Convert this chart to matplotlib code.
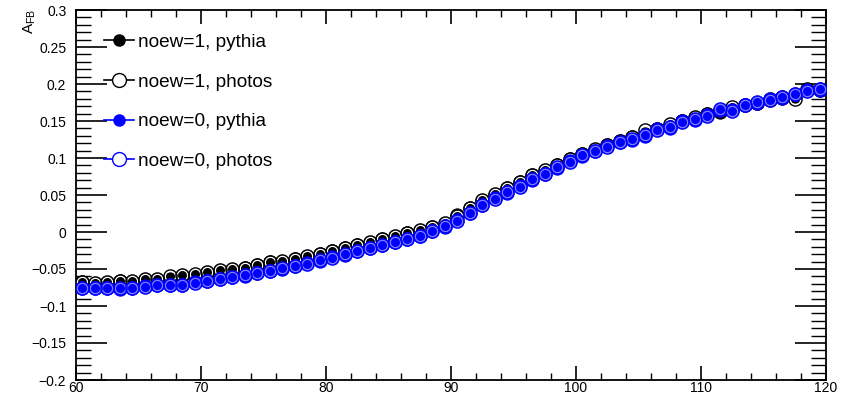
import numpy as np
import matplotlib
matplotlib.use("Agg")
import matplotlib.pyplot as plt
from matplotlib.lines import Line2D
from matplotlib.ticker import MultipleLocator

plt.rcParams['font.family'] = ['Liberation Sans', 'DejaVu Sans']

# bin centres (GeV)
mass = np.arange(60.5, 120.0, 1.0)

afb_noew1_pythia = [
    -0.068, -0.070, -0.069, -0.066, -0.068, -0.065, -0.065, -0.063, -0.060, -0.059,
    -0.055, -0.053, -0.0515, -0.048, -0.045, -0.041, -0.040, -0.036, -0.034, -0.030,
    -0.026, -0.021, -0.018, -0.015, -0.009, -0.007, -0.002, 0.002, 0.007, 0.011,
    0.023, 0.032, 0.042, 0.050, 0.059, 0.067, 0.077, 0.083, 0.090, 0.098,
    0.105, 0.111, 0.118, 0.123, 0.128, 0.133, 0.139, 0.144, 0.150, 0.154,
    0.159, 0.162, 0.166, 0.171, 0.175, 0.179, 0.181, 0.184, 0.192, 0.193]

afb_noew1_photos = [
    -0.067, -0.069, -0.068, -0.066, -0.066, -0.063, -0.064, -0.060, -0.058, -0.057,
    -0.054, -0.052, -0.050, -0.048, -0.044, -0.041, -0.039, -0.036, -0.033, -0.030,
    -0.025, -0.021, -0.017, -0.014, -0.009, -0.006, -0.002, 0.003, 0.007, 0.012,
    0.022, 0.033, 0.043, 0.051, 0.060, 0.068, 0.077, 0.084, 0.091, 0.099,
    0.105, 0.112, 0.118, 0.123, 0.129, 0.138, 0.139, 0.146, 0.150, 0.155,
    0.159, 0.164, 0.169, 0.171, 0.175, 0.180, 0.182, 0.180, 0.193, 0.192]

afb_noew0_pythia = [
    -0.075, -0.076, -0.076, -0.077, -0.075, -0.073, -0.072, -0.072, -0.072, -0.068,
    -0.066, -0.064, -0.061, -0.059, -0.056, -0.053, -0.050, -0.046, -0.042, -0.039,
    -0.034, -0.031, -0.026, -0.021, -0.018, -0.014, -0.010, -0.005, 0.0015, 0.007,
    0.016, 0.026, 0.036, 0.0456, 0.053, 0.062, 0.070, 0.079, 0.087, 0.096,
    0.103, 0.109, 0.116, 0.121, 0.125, 0.130, 0.139, 0.141, 0.150, 0.152,
    0.158, 0.165, 0.165, 0.172, 0.175, 0.180, 0.181, 0.186, 0.192, 0.192]

afb_noew0_photos = [
    -0.076, -0.075, -0.076, -0.076, -0.075, -0.074, -0.072, -0.071, -0.071, -0.069,
    -0.066, -0.063, -0.061, -0.058, -0.056, -0.053, -0.049, -0.046, -0.043, -0.038,
    -0.035, -0.030, -0.026, -0.022, -0.017, -0.014, -0.009, -0.005, 0.001, 0.008,
    0.015, 0.026, 0.037, 0.045, 0.054, 0.061, 0.071, 0.078, 0.088, 0.095,
    0.104, 0.109, 0.115, 0.122, 0.126, 0.131, 0.138, 0.142, 0.149, 0.153,
    0.157, 0.166, 0.164, 0.172, 0.176, 0.179, 0.182, 0.187, 0.191, 0.193]

labels = ["noew=1, pythia", "noew=1, photos", "noew=0, pythia", "noew=0, photos"]

fig = plt.figure(figsize=(8.48, 3.94), dpi=100)
ax = fig.add_axes([76/848, 1 - 380/394, 750/848, 370/394])

ms = 9.5
ax.plot(mass, afb_noew1_pythia, 'o', ms=ms, color='black', mec='black', mew=0.8, zorder=3)
ax.plot(mass, afb_noew1_photos, 'o', ms=ms-2, mfc='none', mec='white', mew=1.0, zorder=4)
ax.plot(mass, afb_noew1_photos, 'o', ms=ms, mfc='none', mec='black', mew=1.0, zorder=4)
ax.plot(mass, afb_noew0_pythia, 'o', ms=ms, color='#0000ff', mec='#0000ff', mew=0.8, zorder=5)
ax.plot(mass, afb_noew0_photos, 'o', ms=ms-2, mfc='none', mec='#8080ff', mew=1.0, zorder=6)
ax.plot(mass, afb_noew0_photos, 'o', ms=ms, mfc='none', mec='#0000ff', mew=1.0, zorder=6)

ax.set_xlim(60, 120)
ax.set_ylim(-0.2, 0.3)

ax.xaxis.set_major_locator(MultipleLocator(10))
ax.xaxis.set_minor_locator(MultipleLocator(2))
ax.yaxis.set_major_locator(MultipleLocator(0.05))
ax.yaxis.set_minor_locator(MultipleLocator(0.01))

ax.tick_params(axis='y', which='major', direction='in', length=22, width=1.2,
               left=True, right=True, labelsize=10, pad=7)
ax.tick_params(axis='y', which='minor', direction='in', length=11, width=1.0,
               left=True, right=True)
ax.tick_params(axis='x', which='major', direction='in', length=10, width=1.2,
               bottom=True, top=True, labelsize=10, pad=0.5)
ax.tick_params(axis='x', which='minor', direction='in', length=5, width=1.0,
               bottom=True, top=True)

def fmt_y(v):
    s = f"{v:.2f}".rstrip('0').rstrip('.')
    if s in ("-0", "0.0"):
        s = "0"
    return s.replace('-', '\u2212')

yt = np.arange(-0.2, 0.3001, 0.05)
ax.set_yticks(yt)
ax.set_yticklabels([fmt_y(round(v, 2)) for v in yt])
ax.set_xticks([60, 70, 80, 90, 100, 110, 120])
ax.set_xticklabels(["60", "70", "80", "90", "100", "110", "120"])

for sp in ax.spines.values():
    sp.set_linewidth(1.3)

fig.text(30/848, 1 - 9/394, r'A$_{\mathregular{FB}}$', rotation=90, ha='center', va='top',
         fontsize=11)

handles = [
    Line2D([], [], color='black', marker='o', ms=8, mfc='black', mec='black', lw=1.2),
    Line2D([], [], color='black', marker='o', ms=10, mfc='white', mec='black', lw=1.2),
    Line2D([], [], color='#0000ff', marker='o', ms=8, mfc='#0000ff', mec='#0000ff', lw=1.2),
    Line2D([], [], color='#0000ff', marker='o', ms=10, mfc='white', mec='#0000ff', lw=1.2),
]
ax.legend(handles, labels, loc='upper left', bbox_to_anchor=(0.037, 0.936), frameon=False,
          fontsize=13.7, handlelength=1.6, handletextpad=0.2, labelspacing=1.17,
          borderaxespad=0, borderpad=0)

fig.savefig('out.png', dpi=100)
